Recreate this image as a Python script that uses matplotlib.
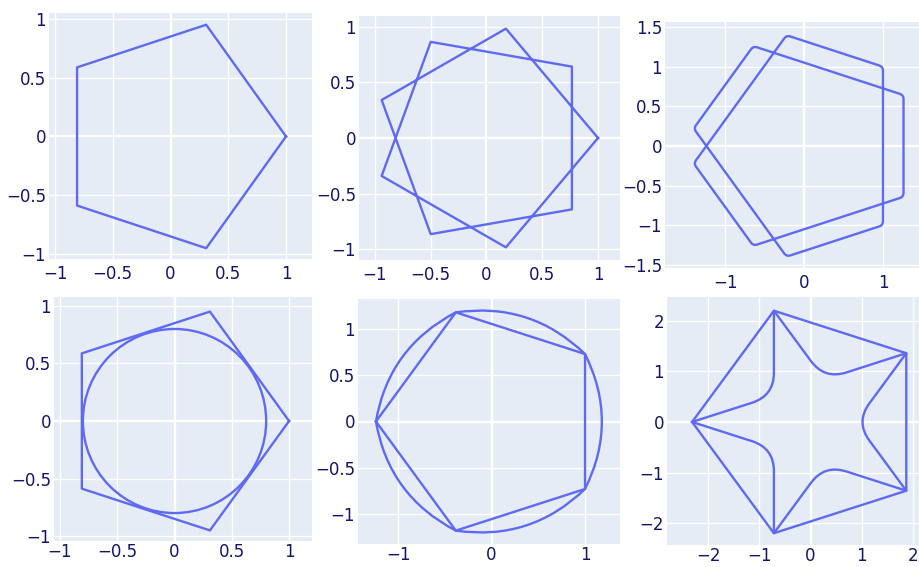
import numpy as np
import matplotlib
matplotlib.use('Agg')
import matplotlib.pyplot as plt
from matplotlib.path import Path
from matplotlib.patches import PathPatch, Circle

# colours / style
LINE = '#5f6af2'
BG = '#e5ecf6'
TXT = '#14146b'
LW = 1.7
plt.rcParams['font.family'] = ['DejaVu Sans']

# panel 1: pentagon on the unit circle
pent_x = [1.0, 0.309, -0.809, -0.809, 0.309]
pent_y = [0.0, 0.951, 0.588, -0.588, -0.951]

# panel 2: {9/2} star, vertices in drawing order
star9_x = [1.0, 0.174, -0.940, -0.5, 0.766, 0.766, -0.5, -0.940, 0.174]
star9_y = [0.0, 0.985, 0.342, -0.866, -0.643, 0.643, 0.866, -0.342, -0.985]

# panel 3: ten-corner closed path (two interleaved pentagons)
dbl_x = [-0.221, 1.0, 1.0, -0.221, -1.397, -0.642, 1.260, 1.260, -0.642, -1.397]
dbl_y = [1.397, 1.0, -1.0, -1.397, 0.221, 1.260, 0.642, -0.642, -1.260, -0.221]

# panel 4: pentagon + inscribed circle
incircle_r = 0.8

# panel 5: circumscribed pentagon + bulged curve (quadratic controls)
big_x = [-1.236, -0.382, 1.0, 1.0, -0.382]
big_y = [0.0, 1.176, 0.727, -0.727, -1.176]
bulge_x = [-1.100, 0.420, 1.360, 0.420, -1.100]
bulge_y = [0.799, 1.293, 0.0, -1.293, -0.799]

# panel 6: pentagon of tips + star with rounded inner corners
tip_x = [-2.31, -0.714, 1.869, 1.869, -0.714]
tip_y = [0.0, 2.197, 1.358, -1.358, -2.197]
inner_x = [-0.714, 0.273, 0.882, 0.273, -0.714]
inner_y = [0.518, 0.839, 0.0, -0.839, -0.518]

# axes boxes in pixels (left, right, top, bottom) and limits
boxes = [(49, 312, 13, 259), (359, 620, 16, 260), (665, 919, 22, 268),
         (54, 312, 297, 541), (358, 620, 299, 544), (667, 919, 297, 545)]
xlims = [(-1.052, 1.225), (-1.143, 1.197), (-1.76, 1.456),
         (-1.052, 1.20), (-1.428, 1.374), (-2.80, 2.117)]
ylims = [(-1.043, 1.051), (-1.099, 1.099), (-1.54, 1.564),
         (-1.043, 1.078), (-1.32, 1.32), (-2.43, 2.468)]
half_ticks = [-1, -0.5, 0, 0.5, 1]
xticks = [half_ticks, half_ticks, [-1, 0, 1], half_ticks, [-1, 0, 1], [-2, -1, 0, 1, 2]]
yticks = [half_ticks, half_ticks, [-1.5, -1, -0.5, 0, 0.5, 1, 1.5],
          half_ticks, half_ticks, [-2, -1, 0, 1, 2]]


def fmt(v):
    s = ('%g' % abs(v))
    return ('\u2212' + s) if v < 0 else s


def closed_line(ax, xs, ys):
    ax.plot(list(xs) + [xs[0]], list(ys) + [ys[0]], color=LINE, lw=LW,
            solid_joinstyle='round')


def rounded_path(xs, ys, cut):
    pts = np.column_stack([xs, ys])
    n = len(pts)
    verts, codes = [], []
    for i in range(n):
        p, prev, nxt = pts[i], pts[i - 1], pts[(i + 1) % n]
        d = cut[i]
        if d == 0:
            verts.append(p)
            codes.append(Path.LINETO)
        else:
            a = p + (prev - p) / np.linalg.norm(prev - p) * d
            b = p + (nxt - p) / np.linalg.norm(nxt - p) * d
            verts += [a, p, b]
            codes += [Path.LINETO, Path.CURVE3, Path.CURVE3]
    codes[0] = Path.MOVETO
    verts.append(verts[0])
    codes.append(Path.CLOSEPOLY)
    return Path(verts, codes)


def add_path(ax, path):
    ax.add_patch(PathPatch(path, facecolor='none', edgecolor=LINE, lw=LW,
                           joinstyle='round'))


W, H = 919, 567
fig = plt.figure(figsize=(W / 100, H / 100), dpi=100)
axes = []
for k, (l, r, t, b) in enumerate(boxes):
    ax = fig.add_axes([l / W, 1 - b / H, (r - l) / W, (b - t) / H])
    ax.set_facecolor(BG)
    ax.set_xlim(*xlims[k])
    ax.set_ylim(*ylims[k])
    ax.set_xticks(xticks[k])
    ax.set_yticks(yticks[k])
    ax.set_xticklabels([fmt(v) for v in xticks[k]])
    ax.set_yticklabels([fmt(v) for v in yticks[k]])
    ax.tick_params(length=0, labelsize=12, labelcolor=TXT)
    ax.tick_params(axis='x', pad=4 if k < 3 else 1.5)
    ax.tick_params(axis='y', pad=2)
    for v in xticks[k]:
        ax.axvline(v, color='white', lw=1.7 if v == 0 else 1.0, zorder=0.5)
    for v in yticks[k]:
        ax.axhline(v, color='white', lw=1.7 if v == 0 else 1.0, zorder=0.5)
    for s in ax.spines.values():
        s.set_visible(False)
    axes.append(ax)

# panel 1
closed_line(axes[0], pent_x, pent_y)

# panel 2
closed_line(axes[1], star9_x, star9_y)

# panel 3
add_path(axes[2], rounded_path(dbl_x, dbl_y, [0.05] * len(dbl_x)))

# panel 4
closed_line(axes[3], pent_x, pent_y)
axes[3].add_patch(Circle((0, 0), incircle_r, facecolor='none', edgecolor=LINE, lw=LW))

# panel 5
closed_line(axes[4], big_x, big_y)
verts = [(big_x[0], big_y[0])]
codes = [Path.MOVETO]
for i in range(len(big_x)):
    j = (i + 1) % len(big_x)
    verts += [(bulge_x[i], bulge_y[i]), (big_x[j], big_y[j])]
    codes += [Path.CURVE3, Path.CURVE3]
add_path(axes[4], Path(verts, codes))

# panel 6
closed_line(axes[5], tip_x, tip_y)
sx, sy, cut = [], [], []
for i in range(len(tip_x)):
    sx += [tip_x[i], inner_x[i]]
    sy += [tip_y[i], inner_y[i]]
    cut += [0, 0.45]
add_path(axes[5], rounded_path(sx, sy, cut))

fig.savefig('out.png', dpi=100)
